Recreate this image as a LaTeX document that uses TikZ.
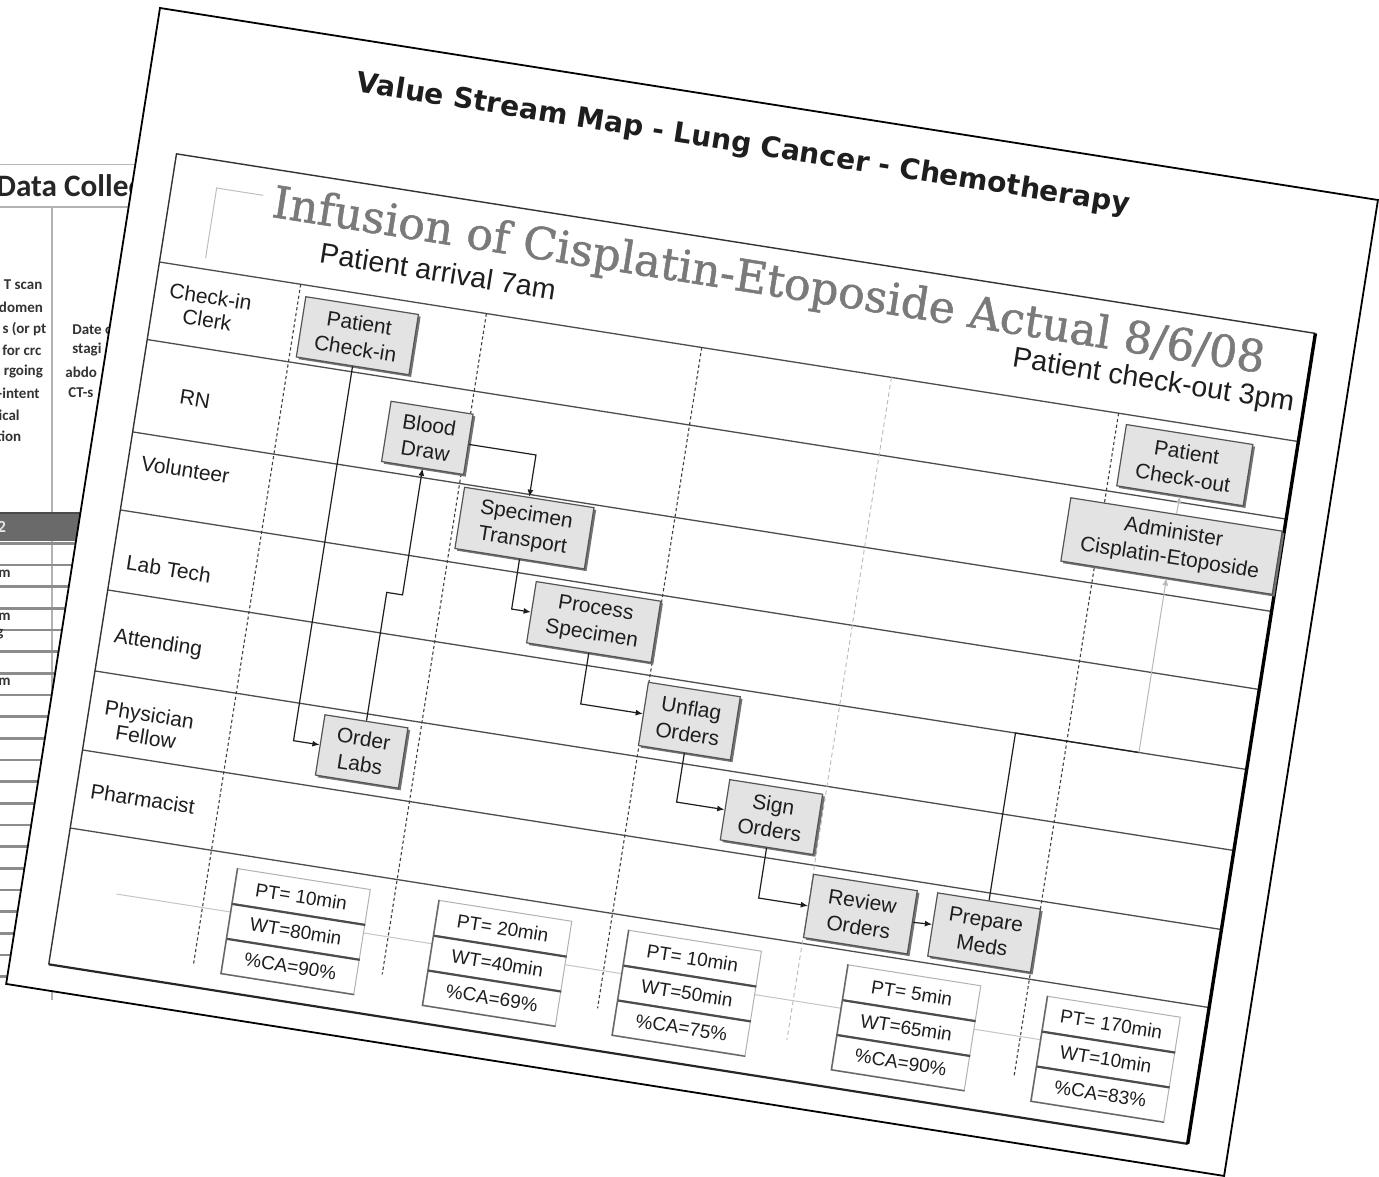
\documentclass[tikz,border=0pt]{standalone}
\usepackage{graphicx}
\usepackage{fontspec}
\setmainfont{Liberation Sans}
\newfontfamily\headsans{DejaVu Sans}
\newfontfamily\headserif{DejaVu Serif}[FakeBold=1.2]
\newfontfamily\tablefont{Carlito}
\usetikzlibrary{arrows.meta,shadows}

\definecolor{ink}{HTML}{1E1E1E}
\definecolor{laneline}{HTML}{4D4D4D}
\definecolor{boxfill}{HTML}{E3E3E3}
\definecolor{boxedge}{HTML}{555555}
\definecolor{titlegray}{HTML}{7A7A7A}
\definecolor{bandgray}{HTML}{6A6A6A}

% one column of process metrics: name, horizontal position, PT, WT, %CA
\newcommand\metricstack[5]{%
  \node[cell] (#1pt) at (#2,855.7) {PT= #3};
  \node[cell] (#1wt) at (#2,891) {WT=#4};
  \node[cell] (#1ca) at (#2,926.3) {\%CA=#5\%};
  \draw[cellsep] (#1pt.south west) -- (#1pt.south east);
  \draw[cellsep] (#1wt.south west) -- (#1wt.south east);
  \draw[draw=black!60, line width=.7pt] (#1pt.north west) -- (#1ca.south west) -- (#1ca.south east);
}

\begin{document}
\begin{tikzpicture}[x=0.5pt,y=-0.5pt,
  proc/.style={draw=boxedge, fill=boxfill, line width=0.6pt, inner sep=1pt,
    align=center, text=ink, font=\fontsize{10.5}{13}\selectfont,
    drop shadow={shadow xshift=1.1pt, shadow yshift=-1.1pt, fill=black!55, opacity=1}},
  lanelabel/.style={align=center, text=ink, inner sep=0pt, font=\fontsize{10.5}{11.5}\selectfont},
  cell/.style={draw=gray!60, fill=white, line width=0.5pt, minimum width=67pt,
    minimum height=17.65pt, inner sep=0pt, text=ink, font=\fontsize{9.5}{11}\selectfont},
  cellsep/.style={draw=black!70, line width=1.1pt},
  conn/.style={draw=ink, line width=0.6pt, -{Latex[length=3.6pt,width=3pt]}},
  connlight/.style={draw=gray!55, line width=0.5pt, -{Latex[length=3.6pt,width=3pt]}},
  lane/.style={draw=laneline, line width=0.65pt},
  sepdots/.style={draw=black!75, line width=0.55pt, dash pattern=on 1.6pt off 1.3pt},
  sepdash/.style={draw=gray!55, line width=0.45pt, dash pattern=on 2.2pt off 1.6pt},
  tabtext/.style={inner sep=0pt, text=black!80, font=\tablefont\bfseries\fontsize{7.5}{9}\selectfont},
]
\useasboundingbox (0,0) rectangle (1379,1176);
\clip (0,0) rectangle (1379,1176);
\fill[white] (0,0) rectangle (1379,1176);

% ---------- data collection sheet lying underneath ----------
\draw[gray!55, line width=0.5pt] (0,165) -- (160,165);
\node[anchor=base west, inner sep=0pt, text=black!85,
  font=\tablefont\bfseries\fontsize{15.6}{18}\selectfont] (dctitle) at (-4,197) {Data Collec};
\draw[gray!60, line width=1.2pt] (0,207) -- (160,207);
\draw[gray!60, line width=0.6pt] (52,207) -- (52,1000);
\node[tabtext, anchor=east] (t1) at (42.7,285) {T scan};
\node[tabtext, anchor=east] (t2) at (43.3,307) {domen};
\node[tabtext, anchor=east] (t3) at (46.7,329) {s (or pt};
\node[tabtext, anchor=east] (t4) at (41.7,350) {for crc};
\node[tabtext, anchor=east] (t5) at (43.3,372) {rgoing};
\node[tabtext, anchor=east] (t6) at (40,393) {-intent};
\node[tabtext, anchor=east] (t7) at (20,415) {ical};
\node[tabtext, anchor=east] (t8) at (21.7,436) {tion};
\node[tabtext, anchor=west] (d1) at (72,330) {Date o};
\node[tabtext, anchor=west] (d2) at (72,350) {stagi};
\node[tabtext, anchor=west] (d3) at (65,372) {abdo};
\node[tabtext, anchor=west] (d4) at (68,393) {CT-s};
\fill[bandgray] (0,513) rectangle (160,541);
\draw[black!70, line width=1pt] (0,513) -- (160,513);
\node[anchor=west, inner sep=0pt, text=white!90!black,
  font=\tablefont\bfseries\fontsize{8.5}{10}\selectfont] (band) at (-3,527) {2};
\foreach \k in {0,...,20}
  \draw[black!45, line width=1.4pt] (0,{543.3+21.67*\k}) -- (160,{543.3+21.67*\k});
\node[tabtext, anchor=west] (r1) at (-2,574) {m};
\node[tabtext, anchor=west] (r2) at (-2,617) {m};
\node[tabtext, anchor=west] (r3) at (-4,634) {g};
\node[tabtext, anchor=west] (r4) at (-2,682) {m};

% ---------- value stream map sheet ----------
\begin{scope}[shift={(160,8)}, rotate=-8.96, every node/.append style={transform shape}]
  \fill[white] (0,0) rectangle (1233,988);
  \draw[black, line width=0.9pt] (0,0) rectangle (1233,988);

  \node[anchor=base west, inner sep=0pt, text=ink] (vsm) at (206,52)
    {\resizebox{391pt}{!}{\headsans\bfseries\fontsize{14.2}{17}\selectfont Value Stream Map - Lung Cancer - Chemotherapy}};

  % swimlane frame
  \foreach \v in {251,329.5,423,502,583,665,745,824}
    \draw[lane] (39,\v) -- (1192,\v);
  \draw[draw=black!80, line width=.7pt] (1192,141.5) -- (39,141.5) -- (39,962);
  \draw[draw=black!85, line width=1.1pt] (39,962) -- (1192,962);
  \draw[draw=black, line width=1.7pt] (1192,141.5) -- (1192,962);

  \draw[sepdots] (182,251) -- (182,941);
  \draw[sepdots] (370,251) -- (370,920);
  \draw[sepdots] (588,251) -- (588,920);
  \draw[sepdash] (780,251) -- (780,922);
  \draw[sepdots] (1010,251) -- (1010,922);

  \draw[gray!50, line width=.5pt] (131,169) -- (84,169) -- (84,240);
  \node[anchor=base west, inner sep=0pt, text=titlegray] (inf) at (141.5,189)
    {\resizebox{502pt}{!}{\headserif\fontsize{22}{26}\selectfont Infusion of Cisplatin-Etoposide Actual 8/6/08}};
  \node[anchor=base west, inner sep=0pt, text=ink, font=\fontsize{14.3}{16}\selectfont] (arr) at (196,227) {Patient arrival 7am};
  \node[anchor=base east, inner sep=0pt, text=ink, font=\fontsize{14.3}{16}\selectfont] (dep) at (1182,222) {Patient check-out 3pm};

  % lane names
  \node[lanelabel] (lclerk) at (95,289) {Check-in\\Clerk};
  \node[lanelabel] (lrn) at (95.5,381) {RN};
  \node[lanelabel] (lvol) at (97,452) {Volunteer};
  \node[lanelabel] (llab) at (96,553) {Lab Tech};
  \node[lanelabel] (latt) at (97,628.5) {Attending};
  \node[lanelabel] (lphy) at (99.5,711) {Physician\\Fellow};
  \node[lanelabel] (lpha) at (106,784) {Pharmacist};

  % time line and metrics
  \draw[gray!45, line width=.5pt] (95,882) -- (1031,882);
  \metricstack{ma}{278}{10min}{80min}{90}
  \metricstack{mb}{482}{20min}{40min}{69}
  \metricstack{mc}{674}{10min}{50min}{75}
  \metricstack{md}{896}{5min}{65min}{90}
  \metricstack{me}{1098}{170min}{10min}{83}

  % process steps
  \node[proc, minimum width=57pt, minimum height=30.5pt] (pci) at (246,293) {Patient\\Check-in};
  \node[proc, minimum width=41.5pt, minimum height=30.5pt] (bd) at (331,383) {Blood\\Draw};
  \node[proc, minimum width=65.5pt, minimum height=31pt] (st) at (441,457) {Specimen\\Transport};
  \node[proc, minimum width=63pt, minimum height=31pt] (ps) at (524,539) {Process\\Specimen};
  \node[proc, minimum width=46.5pt, minimum height=32pt] (uo) at (634,622) {Unflag\\Orders};
  \node[proc, minimum width=42pt, minimum height=30.5pt] (ol) at (315,703) {Order\\Labs};
  \node[proc, minimum width=47pt, minimum height=30.5pt] (so) at (730,704) {Sign\\Orders};
  \node[proc, minimum width=52.5pt, minimum height=32pt] (ro) at (833,786) {Review\\Orders};
  \node[proc, minimum width=52pt, minimum height=32pt] (pm) at (958,785) {Prepare\\Meds};
  \node[proc, minimum width=64pt, minimum height=31pt] (pco) at (1083.5,292) {Patient\\Check-out};
  \node[proc, minimum width=107pt, minimum height=32pt] (adm) at (1083,374) {Administer\\Cisplatin-Etoposide};

  % flow connectors
  \coordinate (c1) at (246,703);
  \draw[conn] (pci.south) -- (c1) -- (ol.west);
  \coordinate (c2a) at (315,542);
  \coordinate (c2b) at (331,542);
  \draw[conn] (ol.north) -- (c2a) -- (c2b) -- (bd.south);
  \coordinate (c3) at (441,383);
  \draw[conn] (bd.east) -- (c3) -- (st.north);
  \coordinate (c4) at (441,539);
  \draw[conn] (st.south) -- (c4) -- (ps.west);
  \coordinate (c5) at (524,622);
  \draw[conn] (ps.south) -- (c5) -- (uo.west);
  \coordinate (c6) at (634,704);
  \draw[conn] (uo.south) -- (c6) -- (so.west);
  \coordinate (c7) at (730,786);
  \draw[conn] (so.south) -- (c7) -- (ro.west);
  \draw[conn] (ro.east) -- (pm.west);
  \coordinate (c8a) at (958,583);
  \coordinate (c8b) at (1083,583);
  \draw[draw=ink, line width=.6pt] (pm.north) -- (c8a) -- (c8b);
  \draw[connlight] (c8b) -- (adm.south);
  \draw[connlight] (adm.north) -- (pco.south);
\end{scope}
\end{tikzpicture}
\end{document}
